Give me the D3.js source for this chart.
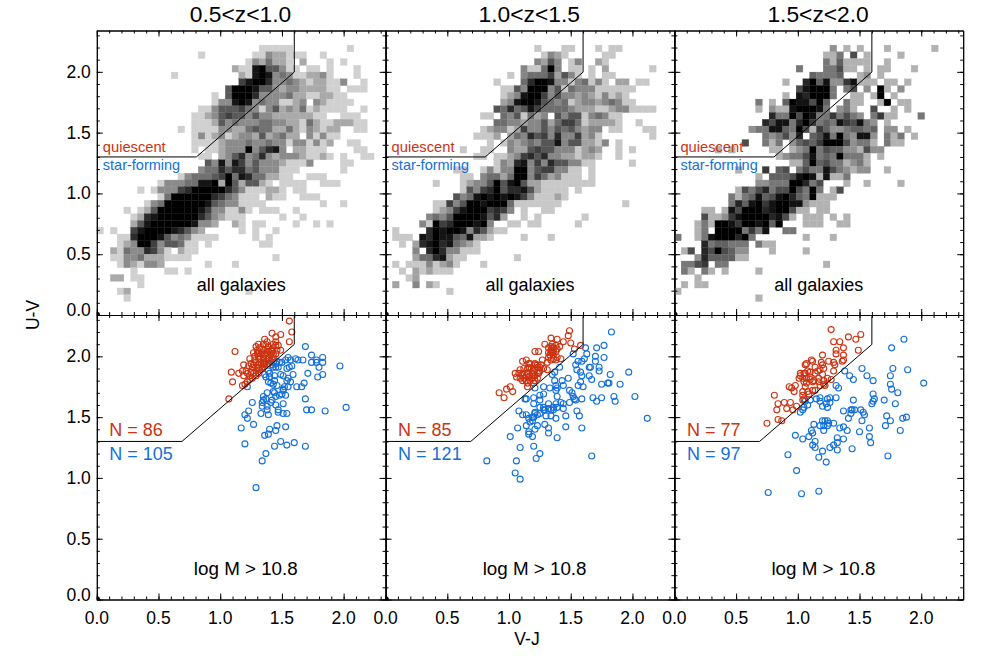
<!DOCTYPE html>
<html>
<head>
<meta charset="utf-8">
<script src="https://cdn.jsdelivr.net/npm/d3@7"></script>
<style>
	html, body { margin: 0; padding: 0; background: #fff; }
	text { font-family: "Liberation Sans", sans-serif; }
	.axis path, .axis line { stroke: #000; stroke-width: 1; }
</style>
</head>
<body>
<div id="chart"></div>
<script>
const titles = ["0.5<z<1.0", "1.0<z<1.5", "1.5<z<2.0"];
const majorTicks = [0, 0.5, 1, 1.5, 2];
const xTickLabels = ["0.0", "0.5", "1.0", "1.5", "2.0"];
const yTickLabels = ["0.0", "0.5", "1.0", "1.5", "2.0"];
const minorTicks = d3.range(0, 24).map(d => d / 10);
const redCounts = ["N = 86", "N = 85", "N = 77"];
const blueCounts = ["N = 105", "N = 121", "N = 97"];

// selection boundary, top row and bottom row
const boxTop = [[0, 1.3], [0.807, 1.3], [1.6, 1.998], [1.6, 2.33]];
const boxBottom = [[0, 1.3], [0.69, 1.3], [1.6, 2.098], [1.6, 2.33]];

// histogram size of a cell in V-J, U-V
const binX = 0.0548;
const binY = 0.0555;

// 2d histograms, top row first, one character for each cell, '.' is empty
const hist1 = [
	"", "",
	".......... .......... ....11111. .......1..",
	".......... .....1.... ...1132211 1..1......",
	".......... .......... ..1324221. 2...1.1...",
	".......... .......... 2118955311 .11.1...1.",
	".......... .1........ .218983431 12231...1.",
	".......... .......... .689973343 2122113..1",
	".......... .........5 9998553233 222211.111",
	".......... .......1.5 9997333342 2112211...",
	".......... .......133 8983433112 3.321111..",
	".......... .....11355 5643135232 4121111..1",
	".......... ....112356 5535332222 2211..111.",
	".......... ....111253 4333443322 1421122211",
	".......... ..1.111133 2245442242 132122..11",
	".......... ....131231 2332523422 .31311....",
	".......... ....111123 3343343313 31312..11.",
	".......... ....1.1123 33935783.2 2111....11",
	".......... .....11.23 5734732333 21121.1..1 1",
	".......... ......5383 8635333211 13....11..",
	".......... .....34475 7745333111 ......1...",
	".......... ..13444569 487442211. .111......",
	".........1 3334488929 525521.111 1..111....",
	"......1.13 3367999997 53111221.1 1.........",
	".........1 4999999764 3111.211.. 111.......",
	".......134 9999998543 31111..... ...1..1...",
	"....1.1259 9999986331 131.111..1",
	".....12789 9999975321 11.....1.. 1.........",
	".....25899 99998332.. 21.11....1 ..1.1.....",
	"1.1..68999 987532.... .1.1..1...",
	"...1179998 53431111.. ...1.1....",
	"...1239963 55411.1... ....11....",
	"..21433763 1.211.....",
	"..11334222 1111...... ......1...",
	"...1321332 ......1... 1.........",
	".....1.... 11.1......",
	"..22.11...",
	"......1...",
	"...12..... .......... ..1.......",
	"....1.....",
	"", ""
];
const hist2 = [
	"", "",
	".......... .......... ..1...11.. .1.11",
	".......... .......... ...1321... ..11",
	".......... .......... ..3253.13. .21",
	".......... .......... 311493.11. 1.2......1",
	".......... ........1. 344462531. 1.11",
	".......... ......1... 4799833134 131.22.11",
	".......... .......115 3999351433 3111111",
	".......... .......123 8996353323 213121",
	".......... .......238 9985434123 3234311",
	".......... ......5474 5864444322 2112331111",
	".......... ....11.435 1423.53551 34311",
	".......... ......4433 2335246641 22221..1",
	".......... ....123312 6335354532 33.11...11",
	".......... ...1112.24 3756373362 31.......1",
	".......... .....1.132 3435583552 213.1",
	".......... .1..11..32 2565533312 32..1.1",
	".......... ...11.1123 6757332212 21..1",
	".......... ......1327 8363755331 1.....1",
	".......... 11..131339 935663311. 1",
	".......... .11.344249 936423111. 1",
	".......1.. .123359589 5221111111 1",
	".......... .153679577 8521111.1.",
	".......... 5348989898 6311121",
	".......116 3599899941 111111.... .....1",
	".......123 689996763. 1..11",
	"......3435 99998572.. 1.1......1",
	".....31967 999893..11 .11.....1",
	".1....7989 98375211",
	".111.87988 548221.... 1...1",
	"..1.278978 4321",
	"....3.7973 3111",
	"....244782 11.......1",
	".1.1113123 1...1",
	"..1.212111",
	"...12",
	".2..3.21",
	".........1",
	"", "", ""
];
const hist3 = [
	"", "",
	".......... .......... ...2.1.1.. .1......1.",
	".......... .......... ..113.5.1. ...1",
	".......... .......... ..3141111. .1",
	".......... ........3. ..33511.1. 11...1",
	".......... .......... 43334..12. 1",
	".......... ......1..7 9482268111 .11.1",
	".......... ........58 9993.35.2. 91.2",
	".......... ......1.87 9993..11.1 9.1",
	".......... ..3.1.4988 594..311.. 19.11",
	".......... ..1.211899 983.231..5 ..1.1",
	".......... ....733959 83363532.3 611...3",
	".......... ...7588379 6343865832 .1",
	".......... .233884395 1642234434 .22.1",
	".......... ...323527. 4583932882 .313.1",
	".......... 5..313.245 4699952331 .311",
	"......1.1. ....11.123 9354422152 2",
	".......... .....12335 834393331. 1",
	".......... .......114 945331231",
	".........1 ...6.45.35 338532122. .1",
	".......... ..1.444589 818113",
	".......... ..22333997 35...1..1. ...1",
	".........1 5357355953 93.15",
	"........31 3484589743 9111",
	"........37 4896899882 111",
	"....11.185 9997899511 .11",
	"....511268 99997851.1 11.1.1",
	"...1319986 998949...1 11..11",
	"...13.9999 3638..33",
	"3..1389997 93.......1 ...1",
	"....734433 3.311",
	".15.759542 2...1....1",
	"...2744441 1",
	".3356.33.. .......... ..1",
	".31.31.1.. ..1",
	"...1",
	".1.11",
	"1",
	".......... ..1",
	"", ""
];

// bottom row, V-J and U-V of every galaxy
const red1 = [[1.56,2.29],[1.58,2.20],[1.42,2.19],[1.49,2.18],[1.45,2.16],[1.36,2.14],[1.56,2.12],[1.38,2.12],[1.45,2.12],[1.43,2.10],[1.31,2.10],[1.29,2.08],[1.47,2.09],[1.37,2.10],[1.32,2.07],[1.39,2.08],[1.43,2.07],[1.49,2.05],[1.12,2.04],[1.30,2.05],[1.35,2.05],[1.41,2.05],[1.46,2.05],[1.27,2.03],[1.31,2.03],[1.34,2.03],[1.38,2.03],[1.43,2.02],[1.28,2.00],[1.32,2.00],[1.36,2.01],[1.41,2.01],[1.45,2.02],[1.24,1.98],[1.28,1.97],[1.31,1.98],[1.35,1.98],[1.39,1.98],[1.43,1.99],[1.29,1.95],[1.33,1.95],[1.37,1.96],[1.19,1.93],[1.23,1.92],[1.27,1.93],[1.31,1.93],[1.35,1.94],[1.41,1.96],[1.09,1.87],[1.15,1.86],[1.18,1.88],[1.21,1.88],[1.25,1.87],[1.29,1.88],[1.32,1.89],[1.36,1.93],[1.19,1.84],[1.24,1.84],[1.27,1.86],[1.31,1.86],[1.10,1.79],[1.18,1.76],[1.22,1.79],[1.24,1.81],[1.26,1.82],[1.07,1.65],[1.20,1.77],[1.39,1.94],[1.34,1.91],[1.30,1.91],[1.26,1.91],[1.42,2.04],[1.38,2.06],[1.35,2.10],[1.45,2.09],[1.30,2.02],[1.33,2.02],[1.36,2.02],[1.39,2.04],[1.42,1.98],[1.35,1.95],[1.31,1.90],[1.22,1.86],[1.25,1.94],[1.29,1.84],[1.36,1.95]];
const blue1 = [[1.69,2.08],[1.74,2.01],[1.83,1.99],[1.78,1.97],[1.74,1.95],[1.78,1.95],[1.83,1.95],[1.80,1.91],[1.97,1.92],[1.71,1.86],[1.83,1.85],[1.79,1.83],[1.55,1.99],[1.53,1.97],[1.50,1.95],[1.61,1.98],[1.63,1.97],[1.67,1.97],[1.58,1.92],[1.56,1.91],[1.54,1.90],[1.48,1.95],[1.45,1.94],[1.42,1.93],[1.45,1.91],[1.39,1.88],[1.43,1.91],[1.49,1.85],[1.51,1.84],[1.44,1.84],[1.40,1.83],[1.37,1.83],[1.59,1.85],[1.55,1.82],[1.54,1.80],[1.57,1.79],[1.44,1.80],[1.39,1.79],[1.41,1.78],[1.43,1.77],[1.46,1.76],[1.68,1.78],[1.66,1.75],[1.62,1.75],[1.55,1.75],[1.52,1.75],[1.51,1.73],[1.50,1.69],[1.53,1.68],[1.48,1.68],[1.43,1.71],[1.44,1.70],[1.38,1.70],[1.45,1.67],[1.35,1.67],[1.35,1.64],[1.34,1.62],[1.42,1.64],[1.41,1.62],[1.26,1.62],[1.51,1.61],[1.45,1.60],[1.69,1.65],[1.38,1.59],[1.38,1.56],[1.34,1.59],[1.23,1.55],[1.20,1.52],[1.22,1.49],[1.33,1.53],[1.39,1.52],[1.47,1.56],[1.47,1.54],[1.51,1.53],[1.54,1.53],[1.70,1.56],[1.74,1.56],[1.85,1.55],[2.02,1.58],[1.17,1.41],[1.27,1.44],[1.46,1.43],[1.53,1.42],[1.40,1.40],[1.45,1.39],[1.36,1.35],[1.39,1.36],[1.20,1.28],[1.44,1.26],[1.49,1.30],[1.54,1.27],[1.60,1.29],[1.69,1.26],[1.37,1.20],[1.34,1.14],[1.29,0.92],[1.57,1.97],[1.46,1.96],[1.43,1.95],[1.40,1.86],[1.36,1.85],[1.51,1.72],[1.22,1.75],[1.37,1.65],[1.47,1.91]];
const red2 = [[1.49,2.21],[1.48,2.17],[1.34,2.15],[1.39,2.14],[1.44,2.12],[1.29,2.10],[1.35,2.10],[1.50,2.11],[1.58,2.09],[1.53,2.06],[1.34,2.08],[1.36,2.07],[1.41,2.08],[1.21,2.04],[1.24,2.04],[1.34,2.05],[1.36,2.04],[1.39,2.06],[1.32,2.03],[1.35,2.03],[1.38,2.04],[1.33,2.01],[1.36,2.01],[1.27,1.97],[1.34,1.97],[1.38,1.97],[1.42,1.98],[1.11,1.96],[1.14,1.97],[1.17,1.94],[1.21,1.93],[1.23,1.93],[1.28,1.90],[1.31,1.89],[1.09,1.89],[1.15,1.90],[1.18,1.90],[1.21,1.90],[1.25,1.88],[1.05,1.86],[1.06,1.83],[1.11,1.86],[1.15,1.86],[1.19,1.86],[1.23,1.86],[1.12,1.82],[1.16,1.83],[1.20,1.84],[1.23,1.82],[1.11,1.80],[1.14,1.80],[1.17,1.80],[1.21,1.80],[1.15,1.75],[1.01,1.75],[0.98,1.73],[1.03,1.71],[0.92,1.70],[0.96,1.66],[1.36,1.98],[1.39,1.99],[1.32,1.99],[1.35,2.07],[1.23,1.91],[1.20,1.88],[1.17,1.84],[1.14,1.84],[1.09,1.82],[1.24,1.86],[1.16,1.91],[1.12,1.90],[1.19,1.82],[1.21,1.94],[1.38,2.09],[1.32,2.07],[1.34,2.03],[1.31,1.95],[1.26,1.93],[1.08,1.86],[1.15,1.78],[1.20,1.78],[1.21,1.84],[1.11,1.84],[1.25,1.91],[1.16,1.94]];
const blue2 = [[1.83,2.20],[1.77,2.09],[1.71,2.07],[1.62,2.07],[1.52,2.02],[1.63,2.02],[1.70,2.00],[1.77,1.99],[1.61,1.98],[1.56,1.96],[1.59,1.96],[1.70,1.96],[1.54,1.93],[1.65,1.91],[1.66,1.91],[1.41,1.91],[1.73,1.91],[1.73,1.88],[1.97,1.87],[1.82,1.85],[1.55,1.89],[1.58,1.87],[1.59,1.84],[1.65,1.84],[1.67,1.81],[1.37,1.87],[1.35,1.85],[1.48,1.82],[1.43,1.80],[1.37,1.80],[1.58,1.79],[1.56,1.76],[1.60,1.75],[1.75,1.77],[1.80,1.78],[1.81,1.78],[1.90,1.77],[1.38,1.76],[1.44,1.76],[1.39,1.74],[1.33,1.74],[1.28,1.75],[1.21,1.74],[1.38,1.72],[1.49,1.72],[1.51,1.70],[1.52,1.67],[1.54,1.64],[1.59,1.65],[1.28,1.69],[1.25,1.68],[1.39,1.67],[1.20,1.66],[1.13,1.65],[1.14,1.65],[1.68,1.66],[1.75,1.66],[1.71,1.63],[1.85,1.67],[1.86,1.63],[2.02,1.67],[1.25,1.64],[1.42,1.62],[1.20,1.61],[1.49,1.62],[1.53,1.65],[1.44,1.61],[1.38,1.61],[1.32,1.61],[1.28,1.58],[1.29,1.56],[1.36,1.56],[1.44,1.57],[1.08,1.55],[1.11,1.52],[1.14,1.52],[1.21,1.53],[1.25,1.53],[1.30,1.51],[1.34,1.51],[1.38,1.49],[1.46,1.51],[1.55,1.55],[1.57,1.51],[2.12,1.49],[1.16,1.49],[1.20,1.50],[1.19,1.47],[1.14,1.43],[1.07,1.41],[1.29,1.44],[1.32,1.41],[1.23,1.43],[1.21,1.40],[1.46,1.42],[1.59,1.41],[1.16,1.38],[1.16,1.36],[1.32,1.37],[1.19,1.34],[1.39,1.33],[1.01,1.34],[1.09,1.25],[1.20,1.26],[1.25,1.20],[1.22,1.16],[1.06,1.14],[0.82,1.14],[1.05,1.04],[1.09,0.99],[1.67,1.18],[1.23,1.52],[1.28,1.56],[1.34,1.56],[1.36,1.58],[1.21,1.54],[1.19,1.50],[1.25,1.58],[1.17,1.46],[1.39,1.58],[1.32,1.57]];
const red3 = [[1.27,2.22],[1.51,2.18],[1.41,2.16],[1.47,2.14],[1.29,2.12],[1.34,2.12],[1.37,2.07],[1.31,2.05],[1.31,2.02],[1.37,2.01],[1.49,2.05],[1.20,2.01],[1.37,1.97],[1.36,1.96],[1.11,1.97],[1.12,1.96],[1.06,1.93],[1.07,1.94],[1.19,1.95],[1.20,1.93],[1.25,1.96],[1.29,1.95],[1.30,1.93],[1.14,1.91],[1.21,1.90],[1.29,1.88],[1.02,1.86],[1.05,1.86],[1.10,1.87],[1.14,1.86],[1.20,1.85],[1.01,1.82],[1.04,1.82],[1.07,1.82],[1.10,1.83],[1.17,1.82],[1.24,1.82],[1.27,1.81],[1.12,1.79],[1.17,1.79],[1.21,1.80],[1.21,1.77],[1.18,1.76],[0.93,1.75],[0.95,1.74],[0.98,1.76],[0.97,1.71],[1.06,1.75],[1.04,1.71],[1.08,1.71],[1.12,1.72],[1.22,1.76],[0.81,1.68],[1.04,1.68],[1.09,1.69],[1.05,1.65],[0.84,1.61],[0.89,1.62],[0.94,1.62],[0.83,1.56],[0.91,1.57],[0.99,1.59],[0.96,1.56],[0.84,1.48],[0.75,1.45],[0.87,1.47],[1.06,1.86],[1.08,1.88],[1.10,1.81],[1.13,1.80],[1.16,1.88],[1.07,1.78],[1.18,1.89],[1.04,1.64],[1.02,1.84],[1.05,1.79],[1.14,1.72]];
const blue3 = [[1.86,2.14],[1.76,2.07],[1.52,1.90],[1.77,1.90],[1.89,1.89],[1.38,1.88],[1.56,1.84],[1.75,1.84],[1.42,1.84],[1.45,1.81],[1.61,1.80],[2.02,1.78],[1.75,1.77],[1.31,1.76],[1.33,1.74],[1.76,1.73],[1.81,1.70],[1.61,1.69],[1.15,1.65],[1.18,1.66],[1.24,1.65],[1.26,1.66],[1.31,1.66],[1.10,1.64],[1.06,1.63],[1.62,1.65],[1.61,1.63],[1.60,1.61],[1.70,1.64],[1.45,1.64],[1.18,1.63],[1.26,1.62],[1.23,1.61],[1.20,1.59],[1.24,1.58],[1.08,1.60],[1.05,1.58],[1.04,1.56],[1.02,1.54],[1.79,1.61],[1.43,1.56],[1.44,1.56],[1.46,1.56],[1.37,1.55],[1.51,1.56],[1.53,1.54],[1.54,1.52],[1.43,1.53],[1.41,1.49],[1.52,1.47],[1.72,1.51],[1.75,1.47],[1.85,1.49],[1.88,1.50],[1.71,1.43],[1.83,1.39],[1.13,1.44],[1.18,1.43],[1.20,1.47],[1.22,1.47],[1.24,1.47],[1.25,1.45],[1.29,1.45],[1.24,1.43],[1.21,1.43],[1.34,1.41],[1.37,1.42],[1.40,1.39],[1.11,1.39],[1.12,1.37],[1.21,1.39],[0.98,1.35],[1.04,1.32],[1.09,1.34],[1.14,1.30],[1.50,1.38],[1.58,1.41],[1.58,1.34],[1.59,1.29],[1.37,1.32],[1.32,1.33],[1.32,1.29],[1.29,1.27],[1.26,1.25],[1.32,1.23],[1.44,1.24],[1.12,1.27],[1.14,1.25],[1.20,1.22],[1.17,1.17],[1.23,1.13],[0.92,1.19],[1.73,1.18],[0.99,1.06],[0.76,0.88],[1.03,0.87],[1.17,0.89]];

const hists = [hist1, hist2, hist3];
const reds = [red1, red2, red3];
const blues = [blue1, blue2, blue3];

const RED = "#cc3311";
const BLUE = "#1470d8";

// lightest cell gets lighter the more galaxies the panel has
const lightest = ["#d0d0d0", "#c8c8c8", "#b2b2b2"];

const width = 992, height = 661;
const panelWidth = 288.8, panelHeight = 284.5;
const panelLeft = [96.8, 385.6, 674.4];
const rowTop = [30.5, 315];

const x = d3.scaleLinear().domain([0, 2.34]).range([0, panelWidth]);
const y = d3.scaleLinear().domain([0, 2.34]).range([panelHeight, 0]);

const svg = d3.select("#chart").append("svg")
	.attr("width", width)
	.attr("height", height)
	.style("display", "block");

svg.append("defs").append("clipPath").attr("id", "plotClip")
	.append("rect")
	.attr("width", panelWidth)
	.attr("height", panelHeight);

const line = d3.line().x(d => x(d[0])).y(d => y(d[1]));

// Ticks on all four sides of a panel, pointing inward
function drawAxes(g) {
	const sides = [
		{ gen: d3.axisBottom(x), at: [0, panelHeight], sign: -1 },
		{ gen: d3.axisTop(x), at: [0, 0], sign: -1 },
		{ gen: d3.axisLeft(y), at: [0, 0], sign: -1 },
		{ gen: d3.axisRight(y), at: [panelWidth, 0], sign: -1 }
	];
	sides.forEach(s => {
		[[minorTicks, 3], [majorTicks, 6]].forEach(t => {
			g.append("g")
				.attr("class", "axis")
				.attr("transform", "translate(" + s.at[0] + "," + s.at[1] + ")")
				.call(s.gen.tickValues(t[0]).tickSize(s.sign * t[1]).tickSizeOuter(0).tickFormat(""));
		});
	});
}

function drawPanel(g, box) {
	g.append("path")
		.attr("d", line(box))
		.attr("fill", "none")
		.attr("stroke", "#000")
		.attr("stroke-width", 1);
	drawAxes(g);
	// little blob at the origin
	g.append("circle")
		.attr("clip-path", "url(#plotClip)")
		.attr("cx", x(0))
		.attr("cy", y(0))
		.attr("r", 3.2)
		.attr("fill", "#000");
}

function drawHistogram(g, rows, light) {
	const colour = d3.scalePow().exponent(0.8).domain([0, 8]).range([light, "#000"]);
	const cells = [];
	rows.forEach((row, i) => {
		row.replace(/ /g, "").split("").forEach((ch, c) => {
			if (ch !== ".") cells.push({ col: c, row: rows.length - 1 - i, level: +ch });
		});
	});
	g.append("g").selectAll("rect")
		.data(cells)
		.enter().append("rect")
		.attr("x", d => x(d.col * binX))
		.attr("y", d => y((d.row + 1) * binY))
		.attr("width", x(binX) - x(0))
		.attr("height", y(0) - y(binY))
		.attr("fill", d => colour(d.level - 1))
		.attr("stroke", d => colour(d.level - 1))
		.attr("stroke-width", 0.3);
}

function drawPoints(g, points, colour) {
	g.append("g").selectAll("circle")
		.data(points)
		.enter().append("circle")
		.attr("cx", d => x(d[0]))
		.attr("cy", d => y(d[1]))
		.attr("r", 3)
		.attr("fill", "none")
		.attr("stroke", colour)
		.attr("stroke-width", 1.1);
}

function label(g, str, px, py, size, colour, anchor) {
	g.append("text")
		.attr("x", px)
		.attr("y", py)
		.attr("font-size", size)
		.attr("fill", colour)
		.attr("text-anchor", anchor || "start")
		.text(str);
}

titles.forEach((title, i) => {
	const top = svg.append("g").attr("transform", "translate(" + panelLeft[i] + "," + rowTop[0] + ")");
	const bottom = svg.append("g").attr("transform", "translate(" + panelLeft[i] + "," + rowTop[1] + ")");

	drawHistogram(top, hists[i], lightest[i]);
	drawPanel(top, boxTop);
	label(top, "quiescent", 6, 121, 14.7, RED);
	label(top, "star-forming", 6, 139.5, 14.5, BLUE);
	label(top, "all galaxies", panelWidth / 2, 260, 18, "#000", "middle");

	drawPoints(bottom, blues[i], BLUE);
	drawPoints(bottom, reds[i], RED);
	drawPanel(bottom, boxBottom);
	label(bottom, redCounts[i], 12.5, 120.5, 18, RED);
	label(bottom, blueCounts[i], 12.5, 145, 18, BLUE);
	label(bottom, "log M > 10.8", 149, 260, 18.8, "#000", "middle");

	label(svg, title, panelLeft[i] + panelWidth / 2 - 0.7, 21.5, 22.8, "#000", "middle");

	majorTicks.forEach((t, k) => {
		label(bottom, xTickLabels[k], x(t), panelHeight + 24, 17.5, "#000", "middle");
	});
});

// y tick labels on the left column only, 0.0 sits a bit above its tick
[0, 1].forEach(r => {
	const g = svg.append("g").attr("transform", "translate(" + panelLeft[0] + "," + rowTop[r] + ")");
	majorTicks.forEach((t, k) => {
		label(g, yTickLabels[k], -6, y(t) + (t === 0 ? 1 : 6), 17.5, "#000", "end");
	});
});

label(svg, "V-J", 527, 645, 17.5, "#000", "middle");

svg.append("text")
	.attr("transform", "translate(39,315) rotate(-90)")
	.attr("font-size", 17.5)
	.attr("text-anchor", "middle")
	.text("U-V");
</script>
</body>
</html>
